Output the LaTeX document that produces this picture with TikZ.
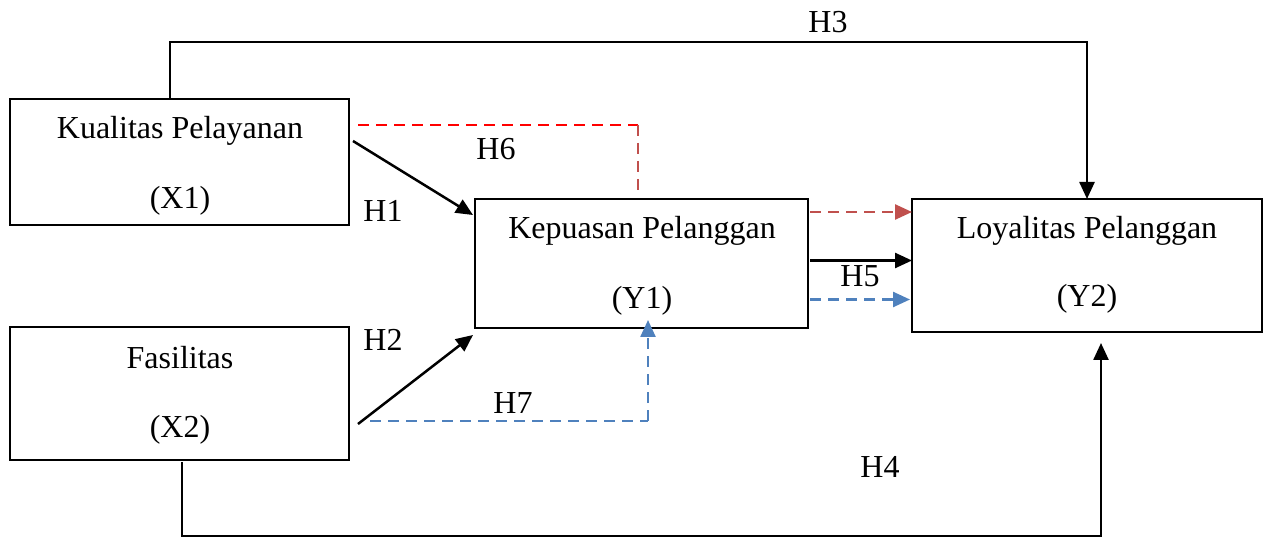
\documentclass[tikz,border=0pt]{standalone}
\usepackage{fontspec}
\setmainfont{Liberation Serif}
\usetikzlibrary{arrows.meta}
\definecolor{redA}{HTML}{FF0000}
\definecolor{redB}{HTML}{C0504D}
\definecolor{blueA}{HTML}{4F81BD}
\begin{document}
\begin{tikzpicture}[x=1pt,y=-1pt,
  box/.style={draw, line width=2pt, inner sep=0pt, outer sep=0pt, anchor=north west},
  lbl/.style={font=\fontsize{32}{38}\selectfont, inner sep=0pt},
  conn/.style={line width=2.5pt},
  tip/.style={-{Triangle[length=17pt,width=15pt]}},
  rdash/.style={line width=2.5pt, dash pattern=on 11pt off 7pt}]
\useasboundingbox (0,0) rectangle (1267,537);
% boxes
\node[box, minimum width=339pt, minimum height=126pt] (x1) at (10,99) {};
\node[box, minimum width=339pt, minimum height=133pt] (x2) at (10,327) {};
\node[box, minimum width=333pt, minimum height=129pt] (y1) at (475,199) {};
\node[box, minimum width=350pt, minimum height=133pt] (y2) at (912,199) {};
% box texts
\node[lbl] (x1a) at (180,131) {Kualitas Pelayanan};
\node[lbl] (x1b) at (180,201) {(X1)};
\node[lbl] (x2a) at (180,358) {Fasilitas};
\node[lbl] (x2b) at (180,430) {(X2)};
\node[lbl] (y1a) at (642,231) {Kepuasan Pelanggan};
\node[lbl] (y1b) at (642,301) {(Y1)};
\node[lbl] (y2a) at (1087,231) {Loyalitas Pelanggan};
\node[lbl] (y2b) at (1087,299) {(Y2)};
% hypothesis labels
\node[lbl] (h3) at (828,22) {H3};
\node[lbl] (h6) at (496,149) {H6};
\node[lbl] (h1) at (383,211) {H1};
\node[lbl] (h2) at (383,340) {H2};
\node[lbl] (h5) at (860,276) {H5};
\node[lbl] (h7) at (513,403) {H7};
\node[lbl] (h4) at (880,467) {H4};
% H3
\draw[conn, tip] ([xshift=160pt]x1.north west) -- ++(0,-57) -| (y2.north);
% H4
\draw[conn, tip] ([shift={(172pt,-2pt)}]x2.south west) -- ++(0,74) -| ([shift={(14pt,-11pt)}]y2.south);
% H1, H2
\draw[conn, tip] ([shift={(4pt,21pt)}]x1.east) -- ([shift={(-2pt,-16pt)}]y1.north west);
\draw[conn, tip] ([shift={(9pt,-30.5pt)}]x2.east) -- ([shift={(-2pt,-7pt)}]y1.south west);
% H5
\draw[conn, tip] ([shift={(2pt,3pt)}]y1.east) -- ([yshift=5pt]y2.west);
% H6 (red dashed)
\coordinate (c6) at ([xshift=-3.5pt]y1.north |- 0,125);
\draw[rdash, redA] ([shift={(9pt,37pt)}]x1.east) -- (c6);
\draw[rdash, redB] (c6) -- ([shift={(-3.5pt,2pt)}]y1.north);
\draw[rdash, redB, tip] ([shift={(2pt,-13pt)}]y1.north east) -- ([yshift=-13pt]y2.north west);
% H7 (blue dashed)
\coordinate (c7) at ([xshift=6.5pt]y1.south |- 0,421);
\draw[rdash, blueA] ([shift={(21pt,-27.5pt)}]x2.east) -- (c7);
\draw[rdash, blueA, tip] (c7) -- ([shift={(6.5pt,8pt)}]y1.south);
\draw[rdash, blueA, tip] ([shift={(2pt,-36pt)}]y1.east) -- ([shift={(-2pt,-34pt)}]y2.west);
\end{tikzpicture}
\end{document}
